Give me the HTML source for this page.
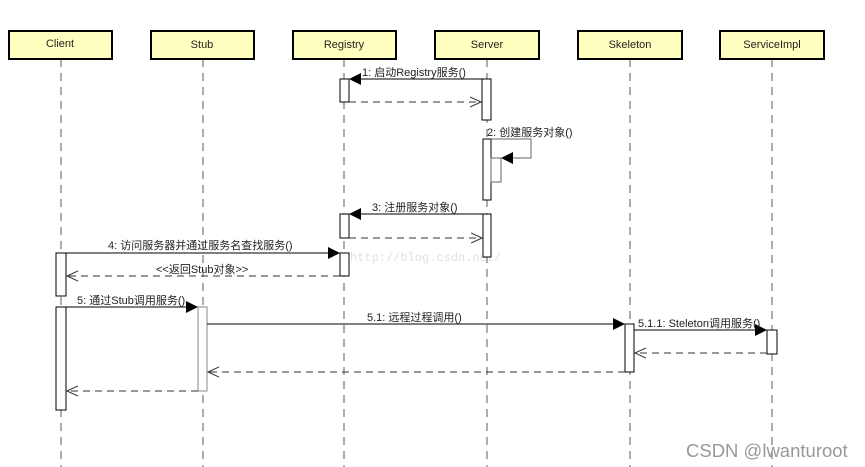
<!DOCTYPE html>
<html><head><meta charset="utf-8"><style>
html,body{margin:0;padding:0;background:#fff;}
svg{display:block;}
text{font-family:"Liberation Sans","Noto Sans CJK SC",sans-serif;font-size:11px;fill:#222;}
</style></head><body>
<svg width="865" height="467" viewBox="0 0 865 467" xmlns="http://www.w3.org/2000/svg">
<defs>
<marker id="fa" markerWidth="12" markerHeight="12" refX="11" refY="6" orient="auto" markerUnits="userSpaceOnUse"><path d="M0,0 L12,6 L0,12 z" fill="#000"/></marker>
<marker id="oa" markerWidth="12" markerHeight="12" refX="11" refY="6" orient="auto" markerUnits="userSpaceOnUse"><path d="M0,1 L11,6 L0,11" fill="none" stroke="#333" stroke-width="1"/></marker>
</defs>
<g stroke="#777" stroke-width="1.2" stroke-dasharray="8,6" fill="none">
<line x1="61" y1="59" x2="61" y2="467"/>
<line x1="203" y1="59" x2="203" y2="467"/>
<line x1="344" y1="59" x2="344" y2="467"/>
<line x1="487" y1="59" x2="487" y2="467"/>
<line x1="630" y1="59" x2="630" y2="467"/>
<line x1="772" y1="59" x2="772" y2="467"/>
</g>
<g fill="#ffffc0" stroke="#000" stroke-width="2">
<rect x="9" y="31" width="103" height="28"/>
<rect x="151" y="31" width="103" height="28"/>
<rect x="293" y="31" width="103" height="28"/>
<rect x="435" y="31" width="104" height="28"/>
<rect x="578" y="31" width="104" height="28"/>
<rect x="720" y="31" width="104" height="28"/>
</g>
<g text-anchor="middle">
<text x="60" y="47">Client</text><text x="202" y="48">Stub</text><text x="344" y="48">Registry</text>
<text x="487" y="48">Server</text><text x="630" y="48">Skeleton</text><text x="772" y="48">ServiceImpl</text>
</g>
<text x="350" y="261" style="font-family:'Liberation Mono',monospace;font-size:12px;fill:#e0e0e0">http://blog.csdn.net/</text>
<g fill="#fff" stroke="#000" stroke-width="1">
<rect x="340" y="79" width="9" height="23"/>
<rect x="482" y="79" width="9" height="41"/>
<rect x="483" y="139" width="8" height="61"/>
<rect x="491" y="158" width="10" height="24" stroke="#666"/>
<rect x="340" y="214" width="9" height="24"/>
<rect x="483" y="214" width="8" height="43"/>
<rect x="56" y="253" width="10" height="43"/>
<rect x="340" y="253" width="9" height="23"/>
<rect x="56" y="307" width="10" height="103"/>
<rect x="198" y="307" width="9" height="84" stroke="#888"/>
<rect x="625" y="324" width="9" height="48"/>
<rect x="767" y="330" width="10" height="24"/>
</g>
<g stroke="#000" stroke-width="1" fill="none">
<line x1="482" y1="79" x2="350" y2="79" marker-end="url(#fa)"/>
<line x1="483" y1="214" x2="350" y2="214" marker-end="url(#fa)"/>
<line x1="66" y1="253" x2="339" y2="253" marker-end="url(#fa)"/>
<line x1="66" y1="307" x2="197" y2="307" marker-end="url(#fa)"/>
<line x1="207" y1="324" x2="624" y2="324" marker-end="url(#fa)"/>
<line x1="634" y1="330" x2="766" y2="330" marker-end="url(#fa)"/>
<polyline points="491,139 531,139 531,158 502,158" stroke="#666" marker-end="url(#fa)"/>
</g>
<g stroke="#333" stroke-width="1" fill="none" stroke-dasharray="7,5">
<line x1="349" y1="102" x2="481" y2="102" marker-end="url(#oa)"/>
<line x1="349" y1="238" x2="482" y2="238" marker-end="url(#oa)"/>
<line x1="340" y1="276" x2="67" y2="276" marker-end="url(#oa)"/>
<line x1="767" y1="353" x2="635" y2="353" marker-end="url(#oa)"/>
<line x1="625" y1="372" x2="208" y2="372" marker-end="url(#oa)"/>
<line x1="198" y1="391" x2="67" y2="391" marker-end="url(#oa)"/>
</g>
<text x="362" y="76">1: 启动Registry服务()</text>
<text x="487" y="136">2: 创建服务对象()</text>
<text x="372" y="211">3: 注册服务对象()</text>
<text x="108" y="249">4: 访问服务器并通过服务名查找服务()</text>
<text x="156" y="273">&lt;&lt;返回Stub对象&gt;&gt;</text>
<text x="77" y="304">5: 通过Stub调用服务()</text>
<text x="367" y="321">5.1: 远程过程调用()</text>
<text x="638" y="327">5.1.1: Steleton调用服务()</text>
<text x="686" y="457" style="font-size:18.5px;fill:#999">CSDN @lwanturoot</text>
</svg>
</body></html>
